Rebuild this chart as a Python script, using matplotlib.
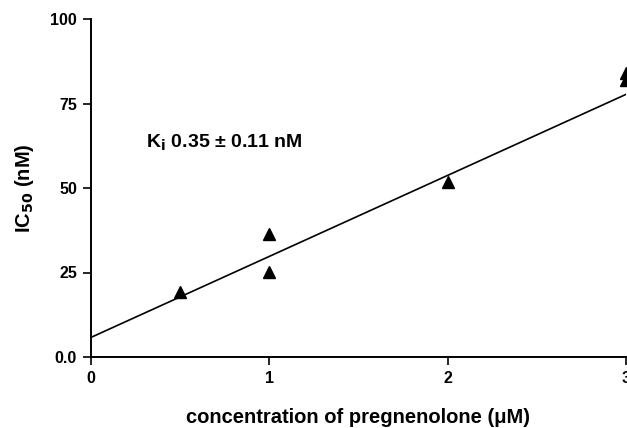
import matplotlib
matplotlib.use("Agg")
import matplotlib.pyplot as plt

plt.rcParams['font.family'] = ['Liberation Sans', 'DejaVu Sans']
plt.rcParams['font.weight'] = 'bold'

conc = [0.5, 1.0, 1.0, 2.0, 3.0, 3.0]
ic50 = [19.3, 36.4, 25.1, 51.8, 82.0, 84.0]
fit_x = [0.0, 3.0]
fit_y = [5.8, 77.7]
xticks = [0, 1, 2, 3]
yticks = [0, 25, 50, 75, 100]
yticklabels = ['0.0', '25', '50', '75', '100']

fig = plt.figure(figsize=(6.27, 4.28), dpi=100)
ax = fig.add_axes([91/627, 71/428, 535/627, 338/428])
ax.plot(fit_x, fit_y, color='black', lw=1.2)
ax.plot(conc, ic50, linestyle='none', marker='^', color='black', markersize=8, clip_on=False)
ax.set_xlim(0, 3)
ax.set_ylim(0, 100)
ax.set_xticks(xticks)
ax.set_xticklabels([str(t) for t in xticks], fontsize=11.5, fontweight='bold')
ax.set_yticks(yticks)
ax.set_yticklabels(yticklabels, fontsize=11.5, fontweight='bold')
ax.tick_params(direction='out', length=6, width=1.2, pad=4)
for s in ['top', 'right']:
    ax.spines[s].set_visible(False)
for s in ['left', 'bottom']:
    ax.spines[s].set_linewidth(1.4)
ax.set_xlabel('concentration of pregnenolone (μM)', fontsize=14.5, fontweight='bold', labelpad=16)
ax.set_ylabel('IC$_{\\mathbf{50}}$ (nM)', fontsize=14.5, fontweight='bold', labelpad=10)
ax.text(0.31, 63.3, 'K$_{\\mathbf{i}}$ 0.35 ± 0.11 nM', fontsize=14, fontweight='bold', va='center', ha='left')
fig.savefig('out.png', dpi=100)
